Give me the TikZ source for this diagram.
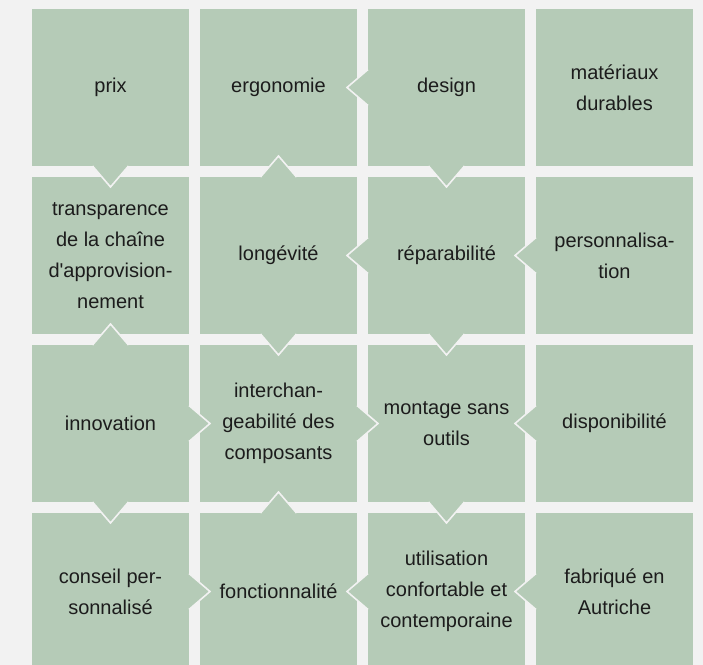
\documentclass[tikz,border=0pt]{standalone}
\usepackage{fontspec}
\setmainfont{Liberation Sans}
\usetikzlibrary{positioning,calc}
\definecolor{boxgreen}{HTML}{B5CBB7}
\definecolor{pagegray}{HTML}{F2F2F2}
\definecolor{inkgray}{HTML}{1C1C1C}
\newcommand{\notch}[3]{%
    \fill[boxgreen] ($(#1.#2)+(#3+90:18)$) -- ($(#1.#2)+(#3:21)$) -- ($(#1.#2)+(#3-90:18)$) -- cycle;
    \draw[notchedge] ($(#1.#2)+(#3+90:18)$) -- ($(#1.#2)+(#3:21)$) -- ($(#1.#2)+(#3-90:18)$);}
\begin{document}
\begin{tikzpicture}
            [
                x = 0.5pt, y = 0.5pt,
                node distance = 5.5pt,
                box/.style = {shape=rectangle, fill=boxgreen, align=center,
                minimum width=78.5pt, minimum height=78.5pt,
                inner sep=0pt, outer sep=0pt, text=inkgray,
                font=\fontsize{10}{15.5}\selectfont},
                notchedge/.style = {draw=pagegray, line width=0.8pt, line join=miter}
            ]
            \fill[pagegray] (0,0) rectangle (703,-665);
            \useasboundingbox (0,0) rectangle (703,-665);
            \node[box] (prix) at (110.5,-87.5) {prix};
            \node[box, right=of prix] (ergo) {ergonomie};
            \node[box, right=of ergo] (design) {design};
            \node[box, right=of design] (mat) {matériaux \\ durables};
            \node[box, below=of prix] (transp) {transparence \\ de la chaîne \\ d\textquotesingle approvision- \\ nement};
            \node[box, right=of transp] (longev) {longévité};
            \node[box, right=of longev] (repar) {réparabilité};
            \node[box, right=of repar] (perso) {personnalisa- \\ tion};
            \node[box, below=of transp] (innov) {innovation};
            \node[box, right=of innov] (interch) {interchan- \\ geabilité des \\ composants};
            \node[box, right=of interch] (montage) {montage sans \\ outils};
            \node[box, right=of montage] (dispo) {disponibilité};
            \node[box, below=of innov] (conseil) {conseil per- \\ sonnalisé};
            \node[box, right=of conseil] (fonct) {fonctionnalité};
            \node[box, right=of fonct] (util) {utilisation \\ confortable et \\ contemporaine};
            \node[box, right=of util] (fabr) {fabriqué en \\ Autriche};
            \notch{prix}{south}{-90}
            \notch{design}{west}{180}
            \notch{design}{south}{-90}
            \notch{longev}{north}{90}
            \notch{longev}{south}{-90}
            \notch{repar}{west}{180}
            \notch{repar}{south}{-90}
            \notch{perso}{west}{180}
            \notch{innov}{north}{90}
            \notch{innov}{east}{0}
            \notch{innov}{south}{-90}
            \notch{interch}{east}{0}
            \notch{dispo}{west}{180}
            \notch{montage}{south}{-90}
            \notch{conseil}{east}{0}
            \notch{fonct}{north}{90}
            \notch{util}{west}{180}
            \notch{fabr}{west}{180}
        \end{tikzpicture}
\end{document}
